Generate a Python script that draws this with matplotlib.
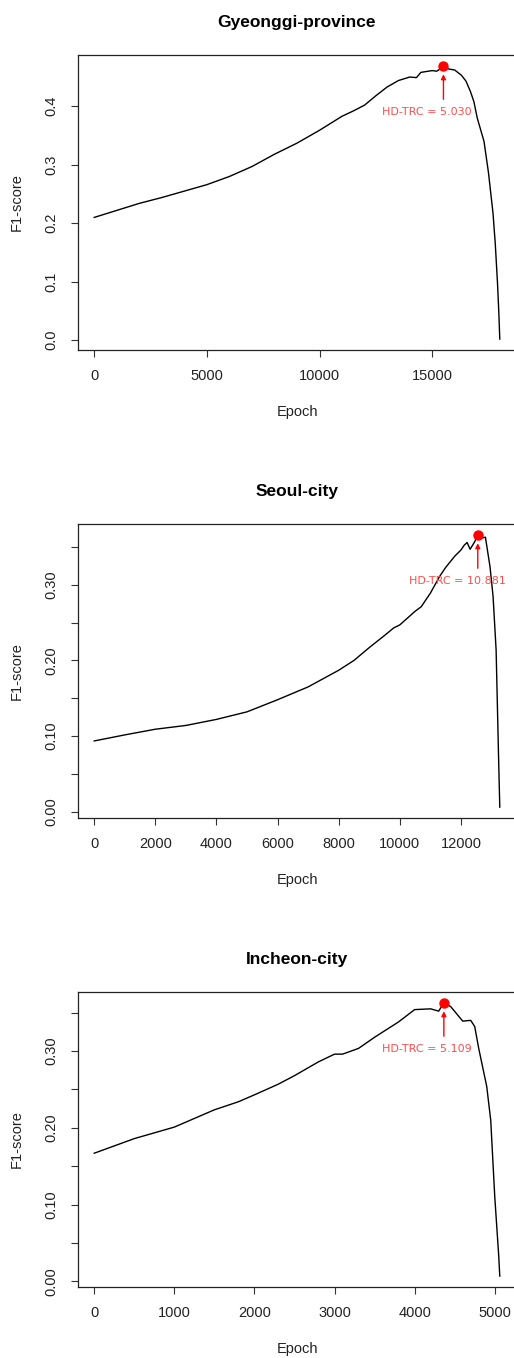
import matplotlib
matplotlib.use('Agg')
import matplotlib.pyplot as plt

# ---- data ----
titles = ['Gyeonggi-province', 'Seoul-city', 'Incheon-city']

gg_epoch = [0, 1000, 2000, 3000, 4000, 5000, 6000, 7000, 8000, 9000, 10000,
            11000, 11500, 12000, 12500, 13000, 13500, 14000, 14300, 14500,
            15000, 15200, 15400, 15500, 15700, 16000, 16300, 16500, 16700,
            16850, 17000, 17300, 17500, 17700, 17800, 17900, 17960, 18000]
gg_f1 = [0.210, 0.222, 0.234, 0.244, 0.255, 0.266, 0.280, 0.297, 0.318, 0.337,
         0.359, 0.383, 0.392, 0.402, 0.418, 0.433, 0.444, 0.450, 0.449, 0.458,
         0.461, 0.460, 0.465, 0.469, 0.464, 0.462, 0.453, 0.443, 0.425, 0.408,
         0.380, 0.340, 0.286, 0.217, 0.165, 0.097, 0.045, 0.002]

se_epoch = [0, 1000, 2000, 3000, 4000, 5000, 6000, 7000, 8000, 8500, 9000,
            9500, 9800, 10000, 10500, 10700, 11000, 11300, 11500, 11800, 12000,
            12100, 12200, 12300, 12450, 12550, 12700, 12800, 12950, 13050,
            13150, 13230, 13270]
se_f1 = [0.0935, 0.1015, 0.109, 0.114, 0.122, 0.132, 0.148, 0.165, 0.187, 0.200,
         0.217, 0.233, 0.243, 0.247, 0.265, 0.271, 0.289, 0.311, 0.323, 0.338,
         0.346, 0.352, 0.356, 0.347, 0.357, 0.366, 0.362, 0.363, 0.324, 0.285,
         0.214, 0.073, 0.006]

ic_epoch = [0, 500, 1000, 1500, 1800, 2000, 2300, 2500, 2800, 3000, 3100,
            3300, 3500, 3800, 4000, 4200, 4300, 4365, 4450, 4600, 4700, 4750,
            4800, 4900, 4950, 5000, 5050, 5063]
ic_f1 = [0.167, 0.186, 0.201, 0.2235, 0.234, 0.243, 0.257, 0.268, 0.286, 0.296,
         0.296, 0.3035, 0.318, 0.338, 0.354, 0.355, 0.352, 0.3627, 0.358, 0.339,
         0.340, 0.332, 0.3035, 0.254, 0.210, 0.111, 0.033, 0.007]

peak_epoch = [15500, 12550, 4365]
peak_f1 = [0.469, 0.366, 0.3627]
hd_trc = ['5.030', '10.881', '5.109']

epochs = [gg_epoch, se_epoch, ic_epoch]
scores = [gg_f1, se_f1, ic_f1]

x_major = [[0, 5000, 10000, 15000],
           [0, 2000, 4000, 6000, 8000, 10000, 12000],
           [0, 1000, 2000, 3000, 4000, 5000]]
y_major = [[0.0, 0.1, 0.2, 0.3, 0.4],
           [0.00, 0.10, 0.20, 0.30],
           [0.00, 0.10, 0.20, 0.30]]
y_minor = [[], [0.05, 0.15, 0.25, 0.35], [0.05, 0.15, 0.25, 0.35]]
y_fmt = ['{:.1f}', '{:.2f}', '{:.2f}']

# ---- layout (pixels) ----
W, H = 514, 1358
axes_px = [(55, 350), (524, 818), (992, 1287)]  # top, bottom
left_px, right_px = 78, 516

plt.rcParams['font.family'] = ['Liberation Sans', 'DejaVu Sans']

fig = plt.figure(figsize=(W / 100, H / 100), dpi=100)

for i in range(3):
    top, bot = axes_px[i]
    ax = fig.add_axes([left_px / W, 1 - bot / H, (right_px - left_px) / W, (bot - top) / H])
    x = epochs[i]
    y = scores[i]
    ax.plot(x, y, color='black', lw=1.0)

    # R-style 4% padding
    xr = max(x) - min(x)
    yr = max(y) - min(y)
    ax.set_xlim(min(x) - 0.04 * xr, max(x) + 0.04 * xr)
    ax.set_ylim(min(y) - 0.04 * yr, max(y) + 0.04 * yr)

    ax.set_xticks(x_major[i])
    ax.set_xticklabels([str(v) for v in x_major[i]])
    ax.set_yticks(y_major[i])
    ax.set_yticklabels([y_fmt[i].format(v) for v in y_major[i]], rotation=90, va='center')
    ax.set_yticks(y_minor[i], minor=True)
    ax.tick_params(which='both', direction='out', length=5, width=0.8, color='#333333',
                   labelsize=10.5, pad=9, labelcolor='#222222')
    for s in ax.spines.values():
        s.set_linewidth(0.9)
        s.set_color('#222222')

    ax.set_title(titles[i], fontsize=12.5, fontweight='bold', pad=20)
    ax.set_xlabel('Epoch', fontsize=10.5, color='#222222')
    ax.xaxis.set_label_coords(0.5, -55 / (bot - top), transform=ax.transAxes)
    ax.xaxis.label.set_va('top')
    ax.set_ylabel('F1-score', fontsize=10.5, color='#222222')
    ax.yaxis.set_label_coords(-54 / (right_px - left_px), 0.5)

    # peak marker + annotation
    ax.plot([peak_epoch[i]], [peak_f1[i]], 'o', color='red', markersize=6.5, zorder=5)
    ax.annotate('', xy=(peak_epoch[i], peak_f1[i]), xytext=(0, -24),
                textcoords='offset points',
                arrowprops=dict(arrowstyle='-|>', color='red', lw=1.0,
                                mutation_scale=7, shrinkA=0, shrinkB=6))
    ax.annotate('HD-TRC = ' + hd_trc[i], xy=(peak_epoch[i], peak_f1[i]),
                xytext=(20, -33), textcoords='offset points', ha='right', va='center',
                color='#ff4d4d', fontsize=8, family='DejaVu Sans')

fig.savefig('out.png', dpi=100)
